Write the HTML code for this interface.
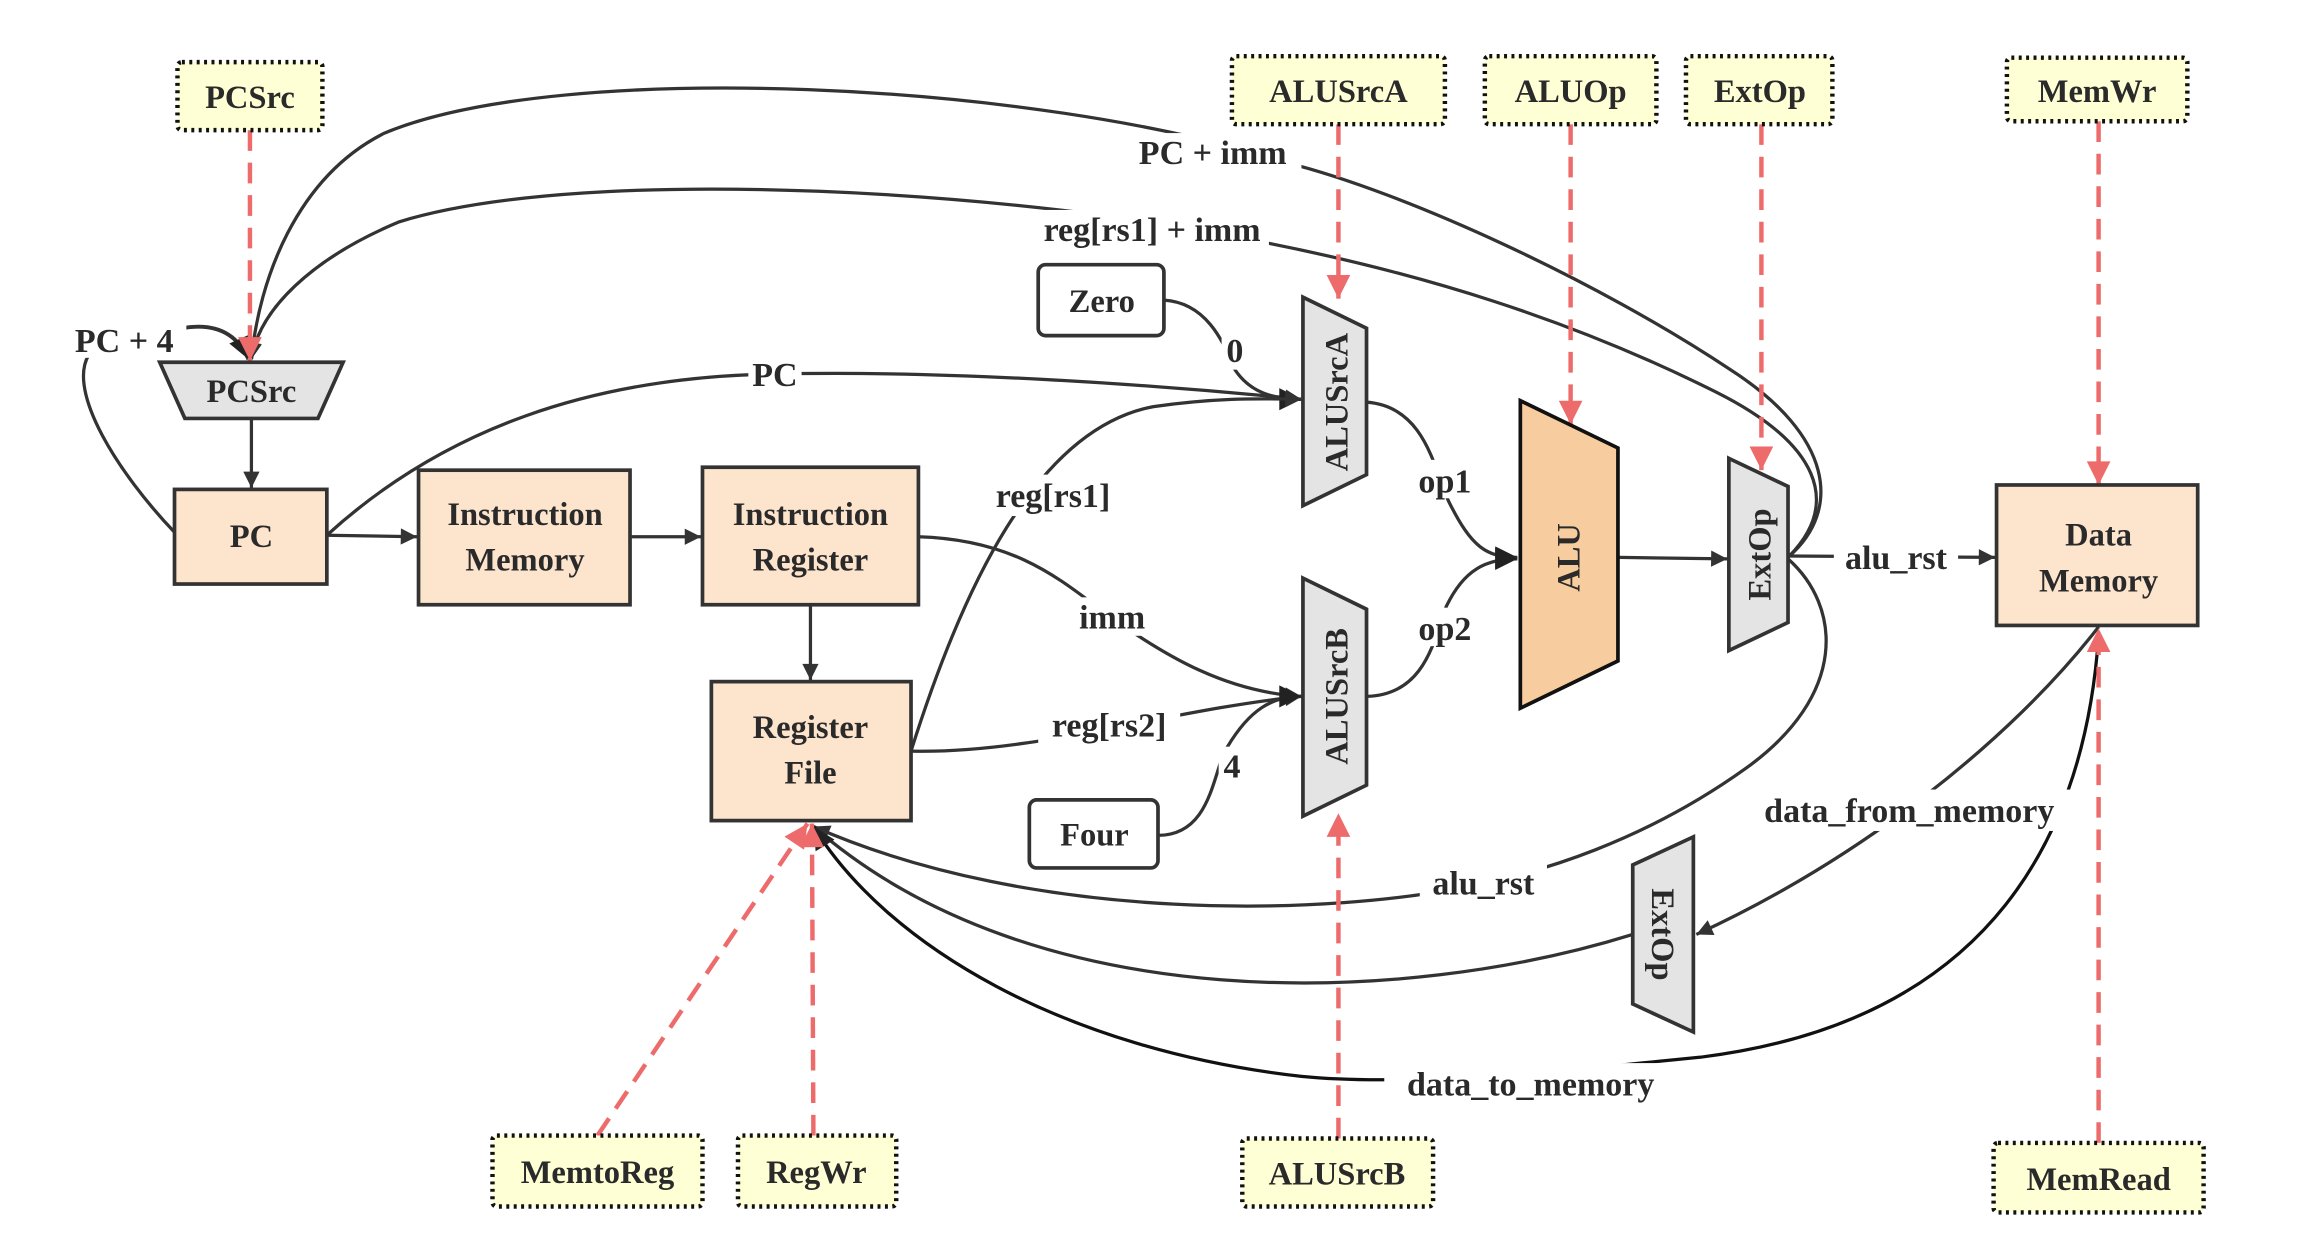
<!DOCTYPE html>
<html><head><meta charset="utf-8"><style>
html,body{margin:0;padding:0;background:#fff;}
svg{display:block;}
text{font-family:"Liberation Serif","DejaVu Serif",serif;font-weight:bold;fill:#2a2a2a;}
</style></head><body>
<svg width="2316" height="1242" viewBox="0 0 1566 840" preserveAspectRatio="none" xmlns="http://www.w3.org/2000/svg">
<defs>
<marker id="a" viewBox="0 0 10 10" refX="10" refY="5" markerWidth="13" markerHeight="11" orient="auto" markerUnits="userSpaceOnUse"><path d="M0,0 L10,5 L0,10 z" fill="#333"/></marker>
<marker id="ab" viewBox="0 0 10 10" refX="10" refY="5" markerWidth="17" markerHeight="15" orient="auto" markerUnits="userSpaceOnUse"><path d="M0,0 L10,5 L0,10 z" fill="#222"/></marker>
<marker id="r" viewBox="0 0 10 10" refX="10" refY="5" markerWidth="18" markerHeight="16" orient="auto" markerUnits="userSpaceOnUse"><path d="M0,0 L10,5 L0,10 z" fill="#ee6b6b"/></marker>
</defs>

<g fill="none" stroke="#333" stroke-width="2.2">
<path d="M118,360 C80,320 45,265 60,240" />
<path d="M123,222 C145,218 160,225 168,243" marker-end="url(#ab)" stroke-width="2.6"/>
<path d="M1210,376 C1245,345 1240,295 1170,250 C1080,190 950,130 870,110 C700,55 380,40 260,90 C200,120 175,190 170,243" marker-end="url(#a)"/>
<path d="M1210,376 C1245,340 1230,300 1160,265 C1060,215 960,185 860,165 C700,130 400,110 270,150 C210,175 175,210 170,243" marker-end="url(#a)"/>
<path d="M170,283 L170,330" marker-end="url(#a)"/>
<path d="M221,362 C300,290 400,255 523,253 C650,250 800,262 880,270" marker-end="url(#a)"/>
<path d="M221,362 L282,363" marker-end="url(#a)"/>
<path d="M426,363 L474,363" marker-end="url(#a)"/>
<path d="M548,409 L548,460" marker-end="url(#a)"/>
<path d="M787,203 C820,205 830,240 835,250 C845,265 860,270 880,270" marker-end="url(#ab)"/>
<path d="M616,508 C650,400 700,290 780,275 C830,268 860,270 880,270" marker-end="url(#a)"/>
<path d="M621,363 C690,365 720,395 752,418 C790,445 830,468 880,471" marker-end="url(#a)"/>
<path d="M616,508 C700,510 790,480 880,471" marker-end="url(#a)"/>
<path d="M783,565 C820,565 820,520 830,505 C845,480 860,471 880,471" marker-end="url(#ab)"/>
<path d="M924,272 C965,275 970,320 980,340 C995,370 1005,377 1026,377" marker-end="url(#ab)"/>
<path d="M924,471 C965,470 970,430 978,410 C990,385 1005,378 1026,378" marker-end="url(#ab)"/>
<path d="M1095,377 L1168,378" marker-end="url(#a)"/>
<path d="M1209,376 L1349,377" marker-end="url(#a)"/>
<path d="M1209,378 C1245,410 1250,470 1180,520 C1110,570 1040,590 1000,598 C900,620 700,625 550,559" marker-end="url(#a)"/>
<path d="M1419,424 C1360,500 1260,580 1147,632" marker-end="url(#a)"/>
<path d="M1104,632 C950,680 700,690 550,559" />
<path d="M1419,430 C1410,560 1350,690 1150,715 C1050,725 950,735 880,728 C720,710 600,640 550,559" marker-end="url(#ab)" stroke="#111"/>
</g>

<g fill="none" stroke="#ee6b6b" stroke-width="3" stroke-dasharray="14,8">
<path d="M169,88 L169,244" marker-end="url(#r)"/>
<path d="M905,84 L905,202" marker-end="url(#r)"/>
<path d="M1062,84 L1062,287" marker-end="url(#r)"/>
<path d="M1191,84 L1191,318" marker-end="url(#r)"/>
<path d="M1419,82 L1419,328" marker-end="url(#r)"/>
<path d="M905,770 L905,550" marker-end="url(#r)"/>
<path d="M550,768 L549,557" marker-end="url(#r)"/>
<path d="M404,768 L546,557" marker-end="url(#r)"/>
<path d="M1419,773 L1419,425" marker-end="url(#r)"/>
</g>

<g fill="#ffffd6" stroke="#111" stroke-width="3" stroke-dasharray="2,3">
<rect x="120" y="42" width="98" height="46" rx="3"/>
<rect x="833" y="38" width="144" height="46" rx="3"/>
<rect x="1004" y="38" width="116" height="46" rx="3"/>
<rect x="1140" y="38" width="99" height="46" rx="3"/>
<rect x="1357" y="39" width="122" height="43" rx="3"/>
<rect x="333" y="768" width="142" height="48" rx="3"/>
<rect x="499" y="768" width="107" height="48" rx="3"/>
<rect x="840" y="770" width="129" height="46" rx="3"/>
<rect x="1348" y="773" width="142" height="47" rx="3"/>
</g>

<g stroke="#333" stroke-width="2.5">
<polygon points="108,245 232,245 215,283 125,283" fill="#e4e4e4"/>
<rect x="118" y="331" width="103" height="64" fill="#fde4cd"/>
<rect x="283" y="318" width="143" height="91" fill="#fde4cd"/>
<rect x="475" y="316" width="146" height="93" fill="#fde4cd"/>
<rect x="481" y="461" width="135" height="94" fill="#fde4cd"/>
<rect x="1350" y="328" width="136" height="95" fill="#fde4cd"/>
<rect x="702" y="179" width="85" height="48" rx="5" fill="#fff"/>
<rect x="696" y="541" width="87" height="46" rx="5" fill="#fff"/>
<polygon points="881,201 924,222 924,321 881,342" fill="#e4e4e4"/>
<polygon points="881,391 924,412 924,531 881,552" fill="#e4e4e4"/>
<polygon points="1028,271 1094,303 1094,447 1028,479" fill="#f7cd9f" stroke="#111"/>
<polygon points="1169,310 1209,329 1209,421 1169,440" fill="#e4e4e4"/>
<polygon points="1104,585 1145,566 1145,698 1104,679" fill="#e4e4e4"/>
</g>

<g fill="#fff">
<rect x="40" y="214" width="86" height="28"/>
<rect x="758" y="90" width="122" height="26"/>
<rect x="700" y="142" width="158" height="26"/>
<rect x="506" y="240" width="36" height="26"/>
<rect x="664" y="321" width="96" height="28"/>
<rect x="724" y="404" width="56" height="26"/>
<rect x="702" y="476" width="96" height="28"/>
<rect x="826" y="224" width="18" height="26"/>
<rect x="824" y="505" width="18" height="26"/>
<rect x="954" y="311" width="46" height="26"/>
<rect x="954" y="411" width="46" height="26"/>
<rect x="1240" y="363" width="84" height="28"/>
<rect x="1174" y="534" width="234" height="28"/>
<rect x="960" y="584" width="86" height="28"/>
<rect x="936" y="719" width="198" height="28"/>
</g>

<g font-size="23" text-anchor="middle" font-family="Liberation Serif, DejaVu Serif, serif" font-weight="bold">
<text x="84" y="238">PC + 4</text>
<text x="820" y="111">PC + imm</text>
<text x="779" y="163">reg[rs1] + imm</text>
<text x="524" y="261">PC</text>
<text x="712" y="343">reg[rs1]</text>
<text x="752" y="425">imm</text>
<text x="750" y="498">reg[rs2]</text>
<text x="835" y="245">0</text>
<text x="833" y="526">4</text>
<text x="977" y="333">op1</text>
<text x="977" y="433">op2</text>
<text x="1282" y="385">alu_rst</text>
<text x="1291" y="556">data_from_memory</text>
<text x="1003" y="605">alu_rst</text>
<text x="1035" y="741">data_to_memory</text>
</g>

<g font-size="22" text-anchor="middle" font-family="Liberation Serif, DejaVu Serif, serif" font-weight="bold">
<text x="169" y="73">PCSrc</text>
<text x="905" y="69">ALUSrcA</text>
<text x="1062" y="69">ALUOp</text>
<text x="1190" y="69">ExtOp</text>
<text x="1418" y="69">MemWr</text>
<text x="404" y="800">MemtoReg</text>
<text x="552" y="800">RegWr</text>
<text x="904" y="801">ALUSrcB</text>
<text x="1419" y="805">MemRead</text>
<text x="170" y="272">PCSrc</text>
<text x="170" y="370">PC</text>
<text x="355" y="355">Instruction</text>
<text x="355" y="386">Memory</text>
<text x="548" y="355">Instruction</text>
<text x="548" y="386">Register</text>
<text x="548" y="499">Register</text>
<text x="548" y="530">File</text>
<text x="1419" y="369">Data</text>
<text x="1419" y="400">Memory</text>
<text x="745" y="211">Zero</text>
<text x="740" y="572">Four</text>
<text transform="translate(911,272) rotate(-90)">ALUSrcA</text>
<text transform="translate(911,471) rotate(-90)">ALUSrcB</text>
<text transform="translate(1068,377) rotate(-90)">ALU</text>
<text transform="translate(1197,375) rotate(-90)">ExtOp</text>
<text transform="translate(1117,632) rotate(90)">ExtOp</text>
</g>
</svg>
</body></html>
